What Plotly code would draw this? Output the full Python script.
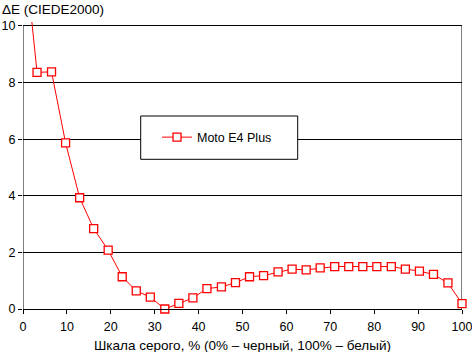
import plotly.graph_objects as go

gray_pct = [0, 3.2, 6.5, 9.7, 12.9, 16.1, 19.4, 22.6, 25.8, 29.0, 32.3, 35.5, 38.7,
            41.9, 45.2, 48.4, 51.6, 54.8, 58.1, 61.3, 64.5, 67.7, 71.0, 74.2, 77.4,
            80.6, 83.9, 87.1, 90.3, 93.5, 96.8, 100]
delta_e = [13.2, 8.36, 8.38, 5.87, 3.93, 2.84, 2.08, 1.14, 0.64, 0.42, 0.0, 0.2, 0.39,
           0.72, 0.78, 0.93, 1.14, 1.18, 1.31, 1.41, 1.38, 1.45, 1.5, 1.5, 1.5,
           1.5, 1.5, 1.41, 1.34, 1.22, 0.92, 0.19]
series_name = "Moto E4 Plus"
x_ticks = [0, 10, 20, 30, 40, 50, 60, 70, 80, 90, 100]
y_ticks = [0, 2, 4, 6, 8, 10]

FONT = "Liberation Sans, Arial, sans-serif"

fig = go.Figure()
fig.add_trace(go.Scatter(
    x=gray_pct, y=delta_e, mode="lines+markers", name=series_name,
    line=dict(color="#ff0000", width=1),
    marker=dict(symbol="square", size=8, color="white",
                line=dict(color="#ff0000", width=1.3)),
    cliponaxis=False,
))

# plot frame: left axis and right border up to y=10
fig.add_shape(type="line", xref="x", yref="y", x0=0, x1=0, y0=0, y1=10,
              line=dict(color="black", width=1), layer="below")
fig.add_shape(type="line", xref="x", yref="y", x0=100, x1=100, y0=0, y1=10,
              line=dict(color="black", width=1), layer="below")
# legend box
fig.add_shape(type="rect", xref="paper", yref="paper",
              x0=(140.7 - 23) / 439, x1=(297.7 - 23) / 439,
              y0=(309 - 159.3) / 287, y1=(309 - 116) / 287,
              line=dict(color="black", width=1), fillcolor="white", layer="above")

fig.update_layout(
    width=472, height=352,
    margin=dict(l=23, r=10, t=22, b=43),
    paper_bgcolor="white", plot_bgcolor="white",
    font=dict(family=FONT, size=12, color="black"),
    showlegend=True,
    legend=dict(x=(157 - 23) / 439, y=(309 - 137.5) / 287, xanchor="left", yanchor="middle",
                bgcolor="rgba(0,0,0,0)", borderwidth=0,
                font=dict(family=FONT, size=12.5, color="black")),
    xaxis=dict(range=[0, 100], tickvals=x_ticks, ticks="outside", ticklen=4,
               tickcolor="black", showgrid=False, zeroline=False,
               showline=True, linecolor="black", linewidth=1,
               automargin=False, ticklabeloverflow="allow", ticklabelstandoff=2,
               tickfont=dict(family=FONT, size=12.5)),
    yaxis=dict(range=[0, 10.14], tickvals=y_ticks, ticks="outside", ticklen=4,
               tickcolor="black", showgrid=True, gridcolor="black", gridwidth=1,
               zeroline=False, showline=False, automargin=False,
               ticklabeloverflow="allow",
               tickfont=dict(family=FONT, size=12.5)),
    annotations=[
        dict(text="ΔE (CIEDE2000)", xref="paper", yref="paper", x=0, y=1,
             xanchor="left", yanchor="middle", xshift=-23, yshift=13,
             showarrow=False, font=dict(family=FONT, size=13.5)),
        dict(text="Шкала серого, % (0% – черный, 100% – белый)", xref="paper", yref="paper",
             x=0.5, y=0, xanchor="center", yanchor="middle", yshift=-36,
             showarrow=False, font=dict(family=FONT, size=13.5)),
    ],
)

fig.write_html("out.html")
